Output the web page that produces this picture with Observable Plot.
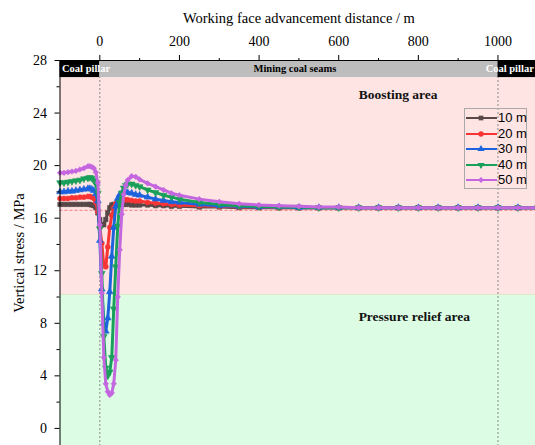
<!DOCTYPE html>
<html>
<head>
<meta charset="utf-8">
<script src="https://cdn.jsdelivr.net/npm/d3@7"></script>
<script src="https://cdn.jsdelivr.net/npm/@observablehq/plot@0.6"></script>
<style>
  body { margin: 0; background: #fff; }
  #chart { position: relative; width: 535px; height: 445px; overflow: hidden; }
  #legend {
    position: absolute; left: 464px; top: 108px; width: 63px; height: 81px;
    border: 1px solid #a9a9a9; box-sizing: border-box;
    font: 13px "Liberation Sans", Arial, sans-serif; color: #000;
  }
  #legend .row {
    position: absolute; left: 0; width: 62px; height: 16px;
    display: flex; align-items: center; white-space: nowrap;
  }
  #legend svg { display: block; flex: none; }
  #legend span { margin-left: 1px; line-height: 16px; }
</style>
</head>
<body>
<div id="chart"></div>
<script>
// Distance from the working-face starting line (m)
const distance = [
  -100, -90, -80, -70, -60, -50, -40, -30, -25, -20, -15, -10, -5,
  0, 5, 10, 15, 20, 25, 30, 35, 40, 45, 50, 55, 60, 65, 70,
  80, 90, 100, 120, 140, 160, 180, 200,
  250, 300, 350, 400, 450, 500, 550, 600, 650, 700, 750, 800, 850, 900, 950, 1000, 1050, 1100
];

// Vertical stress (MPa) for each advance step
const stress10 = [
  17.05, 17.05, 17.05, 17.05, 17.05, 17.05, 17.05, 17.05, 17.05, 17.0, 16.95, 16.8, 16.4,
  15.9, 15.5, 15.5, 15.9, 16.4, 16.8, 17.0, 17.05, 17.05, 17.05, 17.05, 17.05, 17.05, 17.05, 17.05,
  17.0, 17.0, 17.0, 17.0, 16.95, 16.95, 16.9, 16.9,
  16.85, 16.85, 16.8, 16.8, 16.8, 16.8, 16.8, 16.8, 16.8, 16.8, 16.8, 16.8, 16.8, 16.8, 16.8, 16.8, 16.8, 16.8
];
const stress20 = [
  17.5, 17.5, 17.5, 17.55, 17.55, 17.6, 17.6, 17.65, 17.65, 17.6, 17.5, 17.2, 16.5,
  15.3, 14.1, 12.4, 12.3, 13.8, 15.3, 16.2, 16.8, 17.1, 17.25, 17.35, 17.4, 17.4, 17.4, 17.4,
  17.35, 17.3, 17.3, 17.2, 17.15, 17.1, 17.05, 17.0,
  16.95, 16.9, 16.85, 16.85, 16.8, 16.8, 16.8, 16.8, 16.8, 16.8, 16.8, 16.8, 16.8, 16.8, 16.8, 16.8, 16.8, 16.8
];
const stress30 = [
  18.0, 18.0, 18.05, 18.05, 18.1, 18.15, 18.2, 18.25, 18.25, 18.2, 18.1, 17.85, 17.3,
  14.3, 10.6, 8.0, 7.4, 8.4, 10.4, 13.1, 15.3, 16.9, 17.5, 17.8, 17.9, 17.95, 17.95, 17.95,
  17.9, 17.8, 17.75, 17.6, 17.45, 17.35, 17.25, 17.2,
  17.05, 16.95, 16.9, 16.85, 16.85, 16.8, 16.8, 16.8, 16.8, 16.8, 16.8, 16.8, 16.8, 16.8, 16.8, 16.8, 16.8, 16.8
];
const stress40 = [
  18.7, 18.7, 18.75, 18.8, 18.85, 18.9, 19.0, 19.05, 19.1, 19.05, 18.9, 18.6, 17.9,
  15.2, 11.8, 7.0, 4.6, 4.0, 4.3, 5.4, 9.1, 12.3, 15.4, 17.2, 17.9, 18.3, 18.5, 18.6,
  18.6, 18.5, 18.4, 18.15, 17.95, 17.75, 17.6, 17.45,
  17.2, 17.05, 16.95, 16.9, 16.85, 16.85, 16.8, 16.8, 16.8, 16.8, 16.8, 16.8, 16.8, 16.8, 16.8, 16.8, 16.8, 16.8
];
const stress50 = [
  19.45, 19.45, 19.5, 19.55, 19.6, 19.7, 19.8, 19.95, 19.95, 19.9, 19.8, 19.5, 18.7,
  15.5, 10.3, 5.4, 3.4, 2.8, 2.55, 2.7, 3.4, 5.2, 10.0, 13.6, 16.3, 17.8, 18.5, 18.9,
  19.2, 19.15, 18.95, 18.65, 18.4, 18.15, 17.9, 17.75,
  17.45, 17.25, 17.1, 17.0, 16.95, 16.9, 16.85, 16.85, 16.8, 16.8, 16.8, 16.8, 16.8, 16.8, 16.8, 16.8, 16.8, 16.8
];

const seriesNames = ["10 m", "20 m", "30 m", "40 m", "50 m"];
const seriesStress = [stress10, stress20, stress30, stress40, stress50];

// Original in-situ stress (MPa)
const initialStress = [16.6];

// Zones along the seam (m)
const seamZones = [
  { name: "Coal pillar", from: -100, to: 0 },
  { name: "Mining coal seams", from: 0, to: 1000 },
  { name: "Coal pillar", from: 1000, to: 1100 }
];
const seamBoundaries = [0, 1000];

// Stress areas (MPa)
const stressAreas = [
  { name: "Boosting area", from: 10.2, to: 26.7 },
  { name: "Pressure relief area", from: -1.3, to: 10.2 }
];

const xMajorTicks = [0, 200, 400, 600, 800, 1000];
const xMinorTicks = [100, 300, 500, 700, 900];
const yMajorTicks = [0, 4, 8, 12, 16, 20, 24, 28];
const yMinorTicks = [2, 6, 10, 14, 18, 22, 26];

// Styling
const seriesStyle = {
  "10 m": { color: "#584848", symbol: "square", rotate: 0 },
  "20 m": { color: "#fa3434", symbol: "circle", rotate: 0 },
  "30 m": { color: "#1c63dd", symbol: "triangle", rotate: 0 },
  "40 m": { color: "#19a05a", symbol: "triangle", rotate: 180 },
  "50 m": { color: "#c466df", symbol: "diamond2", rotate: 0 }
};
const areaFill = { "Boosting area": "#ffe4e4", "Pressure relief area": "#dcfde4" };
// how far each area label sits below the top of its area (MPa)
const areaLabelDrop = { "Boosting area": 1.27, "Pressure relief area": 1.73 };
const bandTop = 28, bandBottom = 26.7;

const rows = seriesNames.map((name, i) =>
  distance.map((d, j) => ({ series: name, distance: d, stress: seriesStress[i][j] }))
);

const serif = '"Liberation Serif", "Times New Roman", serif';

const seriesMarks = rows.flatMap(data => {
  const s = seriesStyle[data[0].series];
  return [
    Plot.line(data, { x: "distance", y: "stress", stroke: s.color, strokeWidth: 3 }),
    Plot.dot(data, {
      x: "distance", y: "stress", symbol: s.symbol, rotate: s.rotate,
      fill: s.color, stroke: s.color, strokeWidth: 0.6, r: 2.5
    })
  ];
});

const chart = Plot.plot({
  width: 535,
  height: 445,
  marginLeft: 59.5,
  marginRight: -2.3,
  marginTop: 60,
  marginBottom: 0,
  x: { domain: [-100, 1100], axis: null },
  y: { domain: [-1.3, 28], axis: null },
  color: { type: "identity" },
  style: { fontFamily: serif, fontSize: "14px", background: "#fff", color: "#000" },
  marks: [
    // stress areas
    Plot.rect(stressAreas, { y1: "from", y2: "to", fill: d => areaFill[d.name] }),
    Plot.ruleY(stressAreas.slice(1), { y: "to", stroke: "#e6e2c8", strokeWidth: 1 }),
    // boundaries of the mined panel
    Plot.ruleX(seamBoundaries, { stroke: "#8a8a8a", strokeDasharray: "2,2", strokeWidth: 1 }),
    // original stress level
    Plot.ruleY(initialStress, { stroke: "#f27a7a", strokeDasharray: "3,2", strokeWidth: 1 }),
    // seam band along the top
    Plot.rect(seamZones, {
      x1: "from", x2: "to", y1: bandBottom, y2: bandTop,
      fill: d => d.name === "Coal pillar" ? "#000" : "#bdbdbd"
    }),
    Plot.text(seamZones.slice(0, 1), {
      x: "from", y: (bandTop + bandBottom) / 2, text: "name", textAnchor: "start", dx: 2,
      fill: "#fff", fontWeight: "bold", fontSize: 10.5
    }),
    Plot.text(seamZones.slice(2), {
      x: "to", y: (bandTop + bandBottom) / 2, text: "name", textAnchor: "end", dx: -4,
      fill: "#fff", fontWeight: "bold", fontSize: 10.5
    }),
    Plot.text(seamZones.slice(1, 2), {
      x: d => (d.from + d.to) / 2, y: (bandTop + bandBottom) / 2, text: "name",
      fill: "#000", fontWeight: "bold", fontSize: 10.5, dx: -4
    }),
    // area labels
    Plot.text(stressAreas, {
      x: 650, y: d => d.to - areaLabelDrop[d.name], text: "name", textAnchor: "start",
      fontWeight: "bold", fontSize: 13.5, fill: "#111"
    }),
    // curves
    ...seriesMarks,
    // axes
    Plot.ruleX([-100], { stroke: "#000", strokeWidth: 1 }),
    Plot.ruleY([28], { stroke: "#000", strokeWidth: 1 }),
    Plot.axisX(xMajorTicks, { anchor: "top", tickSize: 6, tickPadding: 9, fontSize: 14, label: null, tickFormat: d => String(d) }),
    Plot.axisX(xMinorTicks, { anchor: "top", tickSize: 3, tickFormat: () => "", label: null }),
    Plot.axisY(yMajorTicks, { anchor: "left", tickSize: 5, tickPadding: 8, fontSize: 14, label: null }),
    Plot.axisY(yMinorTicks, { anchor: "left", tickSize: 3, tickFormat: () => "", label: null }),
    Plot.text(["Working face advancement distance / m"], {
      frameAnchor: "top", lineAnchor: "middle", dy: -42, fontSize: 14.5
    }),
    Plot.text(["Vertical stress / MPa"], {
      frameAnchor: "left", textAnchor: "middle", lineAnchor: "middle", rotate: -90, dx: -41, fontSize: 14.5
    })
  ]
});

const root = document.getElementById("chart");
root.appendChild(chart);

// Legend
const legend = document.createElement("div");
legend.id = "legend";
const symbolTypes = { square: d3.symbolSquare, circle: d3.symbolCircle, triangle: d3.symbolTriangle, diamond2: d3.symbolDiamond2 };
seriesNames.forEach((name, i) => {
  const s = seriesStyle[name];
  const row = document.createElement("div");
  row.className = "row";
  row.style.top = (1 + i * 15.6) + "px";
  const path = d3.symbol(symbolTypes[s.symbol], 22)();
  row.innerHTML =
    `<svg width="32" height="16"><line x1="1" x2="32" y1="8" y2="8" stroke="${s.color}" stroke-width="2"/>` +
    `<path d="${path}" transform="translate(16,8) rotate(${s.rotate})" fill="${s.color}"/></svg>` +
    `<span>${name}</span>`;
  legend.appendChild(row);
});
root.appendChild(legend);
</script>
</body>
</html>
